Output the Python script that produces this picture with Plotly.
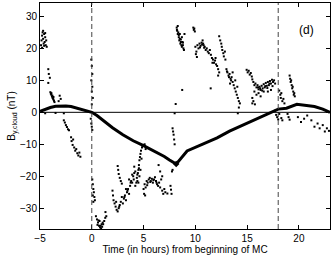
import plotly.graph_objects as go

before_t = [-4.9, -4.85, -4.8, -4.75, -4.7, -4.65, -4.6, -4.55, -4.5, -4.45, -4.4, -4.35, -4.8, -4.6, -4.7, -4.5,
            -4.2, -4.15, -4.05, -4.2,
            -4.0, -3.95, -3.9, -3.85, -3.8, -3.75, -3.7, -3.65, -3.6, -3.9, -3.8, -3.7,
            -3.1, -3.0, -3.2,
            -4.5, -3.5, -2.7,
            -2.7, -2.6, -2.5, -2.4, -2.3, -2.2,
            -2.0, -1.95, -1.85, -1.8, -1.7, -1.6, -1.5, -1.4, -1.3, -1.2, -1.1,
            -0.05, -0.05, -0.1, -0.05]
before_b = [21, 22.5, 24, 25, 23, 21.5, 24.5, 22, 23.5, 21, 22.5, 20.5, 20.2, 20.8, 25.5, 24.8,
            13.5, 12, 10.8, 9.2,
            6.3, 5.8, 5.5, 5.0, 4.6, 4.3, 4.0, 3.6, 3.2, 6.0, 5.2, 4.8,
            5.2, 4.2, 3.5,
            -0.3, -0.2, -0.3,
            -2.5, -3.2, -4.0, -4.6, -5.3, -5.6,
            -7.8, -9.0, -10.2, -8.5, -11.0, -12.0, -11.5, -12.8, -13.5, -12.6, -13.9,
            16.5, 10, -2, -3.5]

cloud_t = [0.0, 0.05, 0.05, 0.0, 0.1, 0.0, 0.0, 0.05,
           0.05, 0.1, 0.15, 0.2, 0.25, 0.3, 0.15, 0.1,
           0.4, 0.5, 0.6, 0.7, 0.8, 0.9, 1.0, 1.1, 1.2, 1.3, 1.4, 0.75, 1.05, 0.55, 0.95, 0.85, 0.65,
           1.32,
           2.0, 2.05, 2.1, 2.2, 2.3, 2.4, 2.5, 2.6, 2.7, 2.8, 2.9, 2.35, 2.65,
           2.5, 2.55, 2.6, 2.7, 2.8, 2.9,
           3.0, 3.1, 3.2, 3.3, 3.4, 3.5, 3.6, 3.7, 3.8, 3.9, 4.0, 4.1, 4.2, 3.3, 3.6, 3.9, 4.1,
           3.15, 3.45, 3.75, 4.05,
           4.2, 4.3, 4.35, 4.4, 4.45, 4.5, 4.55, 4.6, 4.65, 4.7, 4.75, 4.85, 4.9, 4.5, 4.6, 4.7, 5.1, 5.2,
           4.4, 4.55, 4.8,
           5.0, 5.1, 5.2, 5.3, 5.4, 5.5, 5.6, 5.7, 5.8, 5.9, 6.0, 6.1, 6.2, 6.3, 6.4, 6.5, 6.6, 6.7,
           6.8, 6.9, 7.0, 7.1, 5.05, 5.15, 6.45, 6.6, 6.8, 7.3, 5.35, 5.65, 5.95, 6.25,
           7.8,
           7.8, 7.85, 7.9, 7.95, 8.0, 8.1, 8.0,
           7.6, 7.65, 7.7, 7.74,
           8.2, 8.25, 8.3, 8.35, 8.4, 8.45, 8.5, 8.55, 8.6, 8.65, 8.7, 8.75, 8.8, 8.85, 8.9, 8.3, 8.5, 8.7, 8.95,
           8.22, 8.4, 8.6, 8.8,
           9.8, 9.85, 9.9, 9.95,
           10.0, 10.1, 10.2, 10.3, 10.4, 10.5, 10.6, 10.7, 10.8, 10.9, 11.0, 11.1, 11.2, 11.3, 11.4, 10.05, 10.15,
           10.45, 10.65, 10.75, 10.85,
           11.5, 11.6, 11.7, 11.8, 11.9, 12.0, 12.1, 12.2, 12.3, 11.65, 11.95, 12.2,
           12.3, 12.4, 12.5, 12.55, 12.6, 12.7, 12.75, 12.85, 12.9,
           13.0, 13.1, 13.2, 13.3, 13.4, 13.5, 13.6, 13.7, 13.8, 13.9, 14.0, 14.1, 14.2, 14.3, 13.35, 13.6, 13.85, 14.05,
           13.05, 13.25, 13.45,
           8.73, 11.48, 14.1, 14.2,
           14.95, 15.05, 15.15, 15.25, 15.35, 15.45,
           15.5, 15.6, 15.7, 15.8, 15.9, 16.0, 16.1, 16.2, 16.3, 16.4, 16.5, 16.6, 16.7, 16.8, 16.9, 17.0, 17.1,
           17.2, 17.3, 17.4, 17.5, 17.6, 17.7, 15.7, 15.9, 16.1, 16.3, 15.5, 16.6, 17.0, 17.3,
           16.05, 16.25, 16.45, 16.75, 16.95, 17.15, 17.45,
           15.6, 15.75, 15.5,
           17.7, 17.8, 17.9]
cloud_b = [14.5, 12, 8, 6.5, 4.5, 2.5, -4.5, -5.5,
           -21, -22.5, -24, -25, -26.5, -27.5, -28, -26,
           -32.5, -33.5, -34.5, -35.5, -36, -36.3, -35.8, -35, -34, -33, -32.5, -34, -34.5, -35.2, -35, -35.5, -33.8,
           -31.2,
           -24.5, -26, -27.5, -28.5, -29.5, -30.5, -31, -30, -29, -28, -26.5, -28, -29.5,
           -16.8, -18, -19.3, -20.5, -21.5, -22.3,
           -28.5, -27, -26, -27.5, -25, -24, -25.5, -23, -21.5, -22, -20, -19, -18.5, -24, -21, -19.5, -17,
           -26.5, -24.5, -22, -21,
           -23, -22, -20.5, -21.5, -19, -18, -16.5, -15, -14, -13, -12, -11, -10.5, -22, -20, -18, -10, -11.5,
           -19.5, -17.5, -14.5,
           -24, -22.5, -23.5, -21.5, -22, -21, -20.5, -21.5, -20.8, -22, -21, -20.3, -21.5, -22.5, -23, -22, -23.5, -21,
           -24.5, -25.5, -24, -25, -25.5, -26, -16.5, -18.5, -20, -25.4, -22.8, -21.8, -21.2, -22,
           -18,
           -5, -6, -7, -8.5, -10, 2.6, -0.3,
           -23, -24.2, -25.5, -18.5,
           26.5, 25.5, 24.5, 25, 23.5, 22.5, 23, 21.5, 22, 21, 20.5, 22, 21, 20, 19.5, 27, 24.5, 23.5, 24.5,
           25.8, 24.2, 22.8, 21.8,
           26.5, 25.8, 26.2, 25.3,
           20.5, 19, 21, 20, 21.5, 20.8, 21.8, 22.5, 21, 20.5, 19.5, 20, 19, 18.5, 19.5, 18.2, 17.3,
           20.3, 21.2, 21.5, 20.2,
           18, 17, 16.5, 15.5, 16.2, 15, 14.5, 13.5, 12.5, 15.5, 17, 11.5,
           23.8, 22.5, 21.5, 20.5, 19.5, 18.5, 17.5, 19, 16.5,
           13.5, 12.5, 11.5, 12, 10.5, 11, 9.5, 8.5, 7.5, 6.5, 5.5, 4.5, 3.5, 2.8, 9, 12.5, 10, 8,
           12.8, 11, 10,
           7, 7.5, -0.3, 1.5,
           13.3, 12.5, 13, 11.8, 12.3, 11.2,
           10.3, 9.5, 8.5, 9, 7.8, 8.5, 7.2, 8, 7, 8.3, 7.5, 8.8, 7.8, 9.2, 8.3, 9.5, 8.5,
           9.8, 9, 10.2, 9.5, 10, 9, 6.5, 5.5, 6, 5, 4.5, 6.5, 6.5, 7,
           7.8, 7.5, 6.8, 8.2, 7.6, 9, 8.2,
           3.5, 2.5, 2.8,
           0.5, -0.8, -1.5]

after_t = [18.0, 18.1, 18.3, 18.4,
           18.1, 18.2, 18.25, 18.3, 18.4, 18.5, 18.6,
           18.9, 19.0, 19.1,
           19.1, 19.15, 19.2, 19.25, 19.3, 19.35, 19.4, 19.45, 19.5, 19.55, 19.6,
           19.9, 20.2, 20.5, 20.8, 21.2, 21.5, 21.8, 22.0, 22.3, 22.5, 22.7, 22.9]
after_b = [-2.2, -0.5, -1.8, -2.5,
           6.8, 5.5, 4.5, 6, 3.5, 4.2, 2.8,
           -0.5, -1.5, -2.3,
           11.5, 10.5, 9.5, 10, 8.5, 7.5, 8, 6.5, 5.5, 6, 5,
           -1.5, -3.0, -2, -1.0, -2.5, -4.5, -3.5, -5, -4, -6, -5, -5.8]

# ---- model curve ----
model_t = [-5, -4.5, -4, -3.5, -3, -2.5, -2, -1.5, -1, -0.5, 0, 0.5, 1, 1.5, 2, 3, 4, 5, 6, 7, 7.5, 8.15,
           9.2, 10, 11, 12.1, 13.3, 14, 15.4, 16.5, 17.6, 18, 18.8, 19.5, 19.8, 21.5, 22.3, 23]
model_b = [0.3, 1.0, 1.5, 1.9, 2.0, 2.0, 1.8, 1.3, 0.8, 0.4, 0.0, -1.0, -2.3, -3.6, -4.8, -7.0, -8.9, -10.4,
           -12.0, -13.8, -14.9, -16.2, -12.1, -11.0, -9.6, -8.0, -5.9, -4.9, -2.9, -1.2, 0.4, 1.0, 1.3, 2.2,
           2.5, 1.8, 1.0, 0.0]
model_min_t = [8.15]
model_min_b = [-16.2]

boundaries = [0, 18]
x_range = [-5, 23]
y_range = [-36.5, 34.2]
x_ticks = [-5, 0, 5, 10, 15, 20]
y_ticks = [-30, -20, -10, 0, 10, 20, 30]

FONT = "Liberation Sans, Arial, Helvetica, sans-serif"

fig = go.Figure()
obs_t = before_t + cloud_t + after_t
obs_b = before_b + cloud_b + after_b
fig.add_trace(go.Scatter(x=obs_t, y=obs_b, mode="markers",
                         marker=dict(color="black", size=2, symbol="square", line=dict(width=0)),
                         hoverinfo="skip"))
fig.add_trace(go.Scatter(x=model_t, y=model_b, mode="lines",
                         line=dict(color="black", width=3), hoverinfo="skip"))
fig.add_trace(go.Scatter(x=model_min_t, y=model_min_b, mode="markers",
                         marker=dict(color="black", size=5, symbol="diamond"), hoverinfo="skip"))

for b in boundaries:
    fig.add_shape(type="line", xref="x", yref="paper", x0=b, x1=b, y0=0, y1=1,
                  line=dict(color="#444444", width=1, dash="5px,3px"))
fig.add_shape(type="line", xref="paper", yref="y", x0=0, x1=1, y0=0, y1=0,
              line=dict(color="black", width=1))

fig.add_annotation(x=20.7, y=25.7, xref="x", yref="y", text="(d)", showarrow=False,
                   font=dict(family=FONT, size=12, color="black"))

axis_common = dict(showline=True, linecolor="black", linewidth=1, mirror="ticks",
                   ticks="inside", ticklen=4, tickcolor="black", showgrid=False, zeroline=False,
                   tickfont=dict(family=FONT, size=10, color="black"))
fig.update_xaxes(range=x_range, tickvals=x_ticks, **axis_common,
                 title=dict(text="Time (in hours) from beginning of MC",
                            font=dict(family=FONT, size=10, color="black"), standoff=2))
fig.update_yaxes(range=y_range, tickvals=y_ticks, **axis_common,
                 title=dict(text="B<sub>y,cloud</sub> (nT)",
                            font=dict(family=FONT, size=10, color="black"), standoff=2))

fig.update_layout(width=332, height=255, margin=dict(l=40, r=2, t=3, b=26),
                  paper_bgcolor="white", plot_bgcolor="white", showlegend=False)

fig.write_html("out.html", config={"displayModeBar": False, "staticPlot": True},
               post_script="document.body.style.margin='0';document.body.style.padding='0';")
